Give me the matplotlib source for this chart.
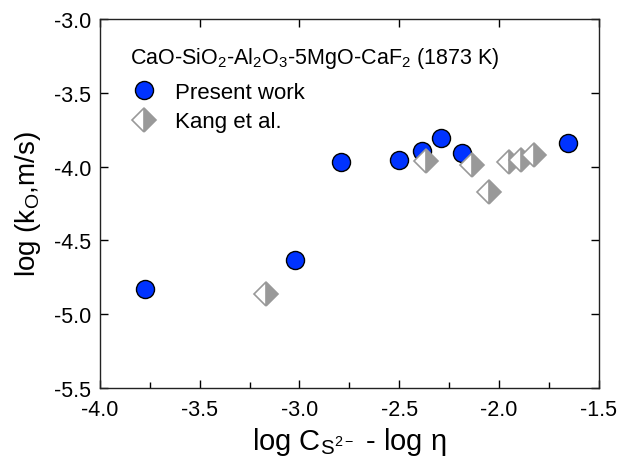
import numpy as np
import matplotlib
matplotlib.use('Agg')
import matplotlib.pyplot as plt
from matplotlib.lines import Line2D
from matplotlib.ticker import MultipleLocator

plt.rcParams['font.family'] = ['Liberation Sans', 'DejaVu Sans']
plt.rcParams['mathtext.default'] = 'regular'

# Present work
present_x = [-3.775, -3.023, -2.794, -2.502, -2.385, -2.290, -2.185, -1.657]
present_y = [-4.830, -4.637, -3.971, -3.953, -3.896, -3.808, -3.908, -3.842]

# Kang et al.
kang_x = [-3.168, -2.364, -2.134, -2.051, -1.949, -1.891, -1.824]
kang_y = [-4.863, -3.960, -3.989, -4.174, -3.971, -3.953, -3.919]

BLUE = '#0033ff'
GREY = '#999999'

fig = plt.figure(figsize=(6.2, 4.64), dpi=100)
ax = fig.add_axes([0.161, 0.162, 0.805, 0.795])

ax.plot(kang_x, kang_y, linestyle='none', marker='D', markersize=12.5,
        fillstyle='right', markerfacecolor=GREY, markerfacecoloralt='white',
        markeredgecolor=GREY, markeredgewidth=1.2, zorder=3)
ax.plot(present_x, present_y, linestyle='none', marker='o', markersize=13,
        markerfacecolor=BLUE, markeredgecolor='black', markeredgewidth=1.0,
        zorder=2)

ax.set_xlim(-4.0, -1.5)
ax.set_ylim(-5.5, -3.0)
ax.xaxis.set_major_locator(MultipleLocator(0.5))
ax.yaxis.set_major_locator(MultipleLocator(0.5))
ax.xaxis.set_minor_locator(MultipleLocator(0.25))
ax.xaxis.set_major_formatter(plt.FormatStrFormatter('%.1f'))
ax.yaxis.set_major_formatter(plt.FormatStrFormatter('%.1f'))
ax.tick_params(which='both', direction='in', top=True, right=True,
               labelsize=15.5, width=1.0)
ax.tick_params(which='major', length=6)
ax.tick_params(axis='x', which='major', pad=8)
ax.tick_params(axis='y', which='major', pad=6)
ax.tick_params(which='minor', length=4, top=False)
for s in ax.spines.values():
    s.set_linewidth(1.0)
    s.set_color('#222222')

ax.set_xlabel('log C$_{S^{2-}}$ - log \u03b7', fontsize=21, labelpad=4)
ax.set_ylabel('log (k$_O$,m/s)', fontsize=20, labelpad=8)

ax.text(0.060, 0.881, 'CaO-SiO$_2$-Al$_2$O$_3$-5MgO-CaF$_2$ (1873 K)',
        transform=ax.transAxes, fontsize=15.5, ha='left', va='baseline')

handles = [
    Line2D([], [], linestyle='none', marker='o', markersize=13,
           markerfacecolor=BLUE, markeredgecolor='black'),
    Line2D([], [], linestyle='none', marker='D', markersize=12.5,
           fillstyle='right', markerfacecolor=GREY,
           markerfacecoloralt='white', markeredgecolor=GREY,
           markeredgewidth=1.2),
]
ax.legend(handles, ['Present work', 'Kang et al.'], loc='upper left',
          frameon=False, fontsize=16, handlelength=1.2,
          handletextpad=0.8, labelspacing=0.39,
          bbox_to_anchor=(0.061, 0.83), borderaxespad=0, borderpad=0)

fig.savefig('out.png', dpi=100)
